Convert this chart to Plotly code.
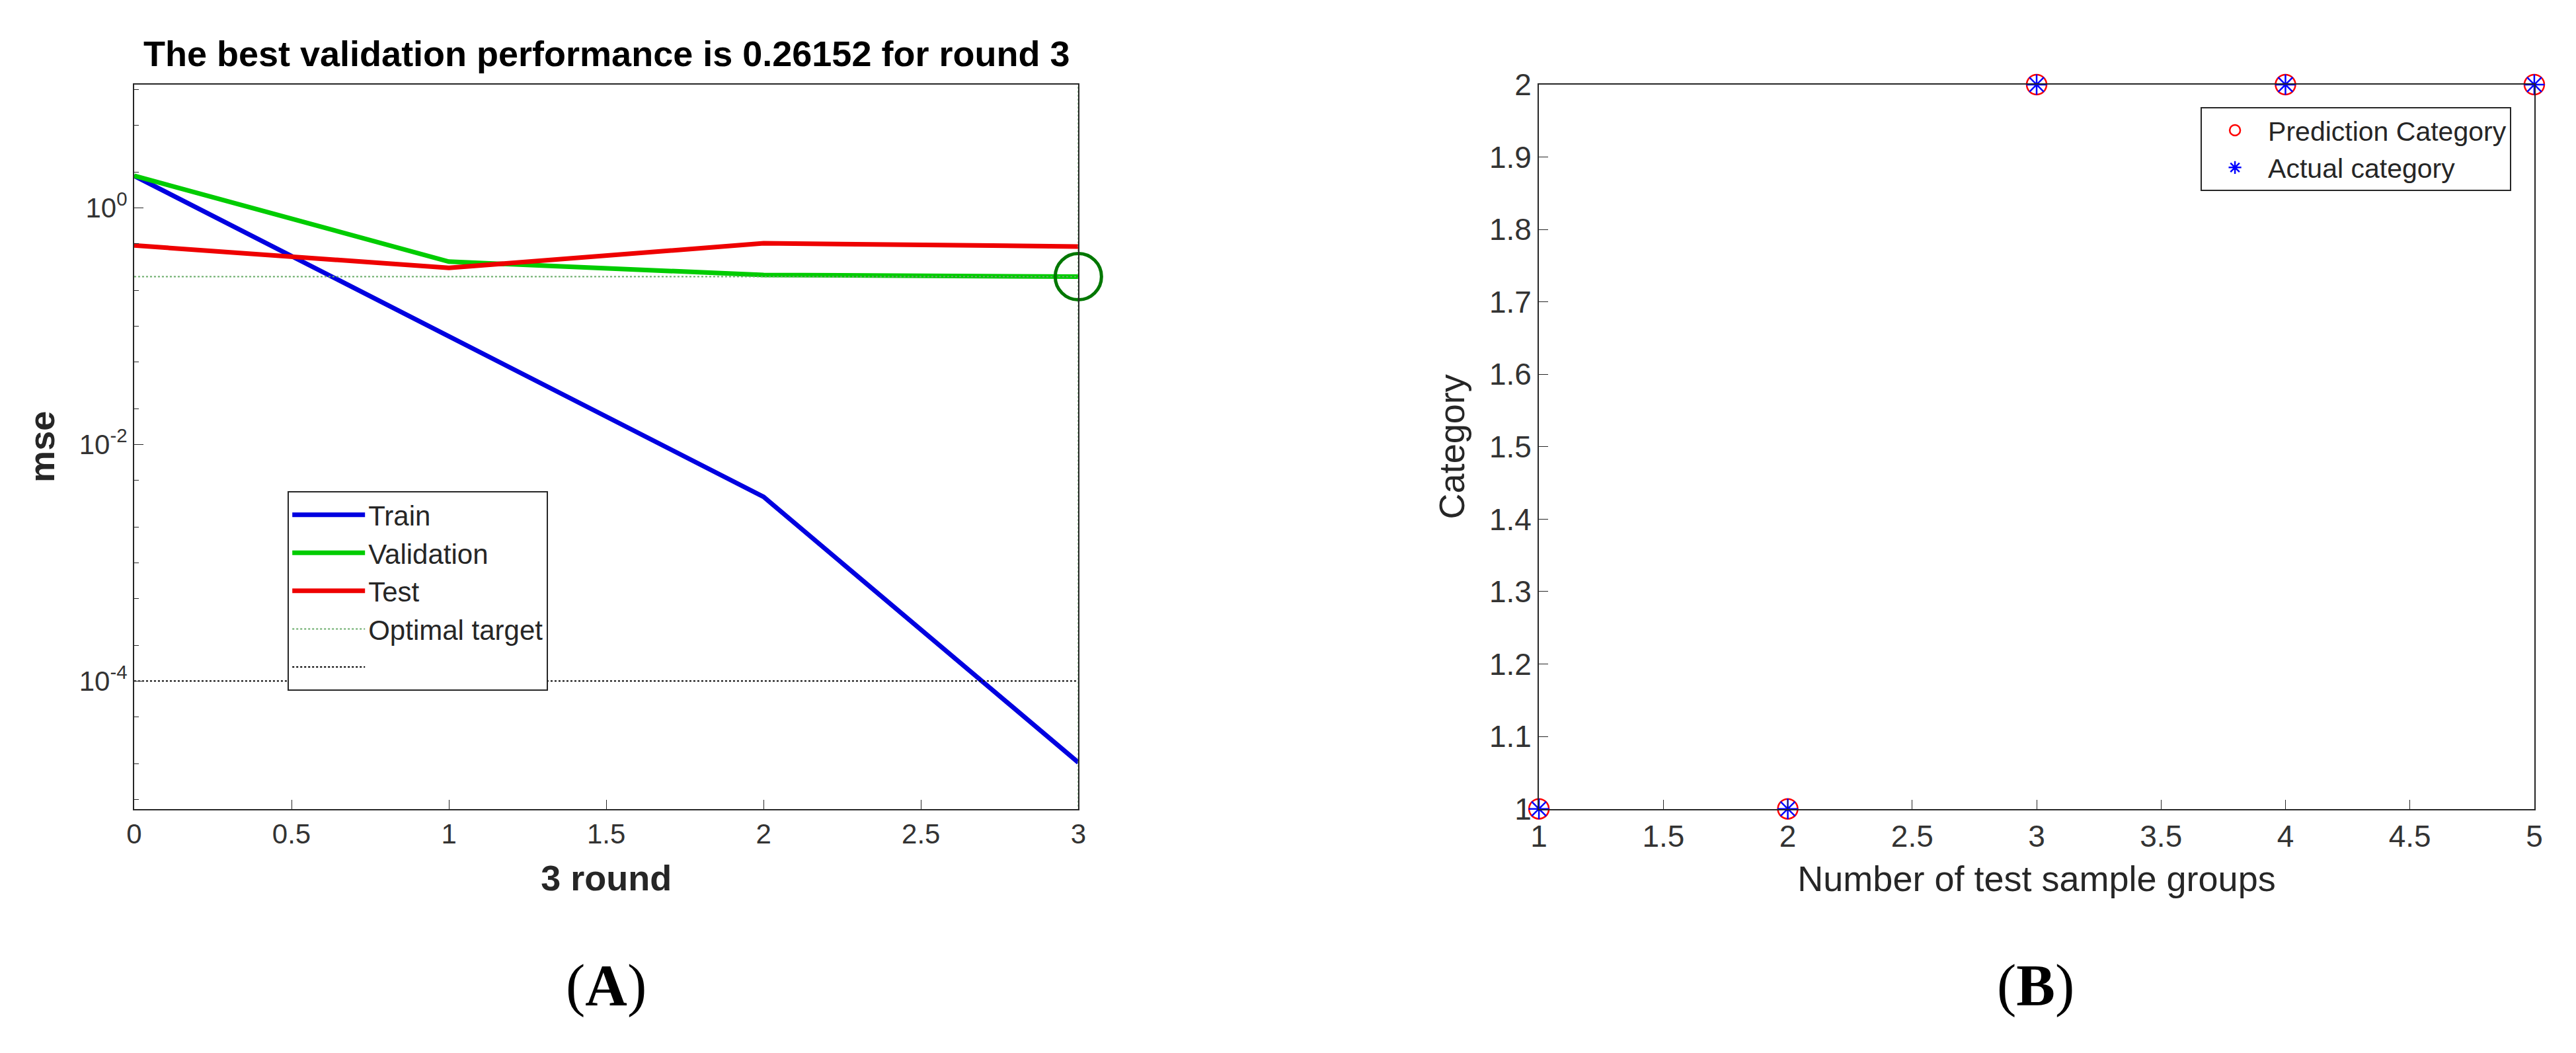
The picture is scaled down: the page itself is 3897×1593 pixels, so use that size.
import plotly.graph_objects as go

# Panel A: training performance
rounds = [0, 1, 2, 3]
train_mse = [1.86, 0.081, 0.0036, 2.05e-5]
val_mse = [1.86, 0.35, 0.27, 0.26152]
test_mse = [0.48, 0.31, 0.50, 0.47]
best_val = 0.26152
best_round = 3
goal = 1e-4

# Panel B: classification results
groups = [1, 2, 3, 4, 5]
predicted = [1, 1, 2, 2, 2]
actual = [1, 1, 2, 2, 2]

FONT = "Liberation Sans"
fig = go.Figure()

fig.add_trace(go.Scatter(x=rounds, y=train_mse, mode="lines", name="Train",
                         line=dict(color="#0000e0", width=7), xaxis="x", yaxis="y"))
fig.add_trace(go.Scatter(x=rounds, y=val_mse, mode="lines", name="Validation",
                         line=dict(color="#00cc00", width=7), xaxis="x", yaxis="y"))
fig.add_trace(go.Scatter(x=rounds, y=test_mse, mode="lines", name="Test",
                         line=dict(color="#ee0000", width=7), xaxis="x", yaxis="y"))
fig.add_trace(go.Scatter(x=[rounds[0], rounds[-1]], y=[best_val, best_val], mode="lines",
                         name="Optimal target", line=dict(color="#66aa66", width=2, dash="dot"),
                         xaxis="x", yaxis="y"))
fig.add_trace(go.Scatter(x=[rounds[0], rounds[-1]], y=[goal, goal], mode="lines", name=" ",
                         line=dict(color="black", width=2, dash="dot"), xaxis="x", yaxis="y"))
fig.add_trace(go.Scatter(x=[best_round, best_round], y=[1e-6, 100], mode="lines", showlegend=False,
                         line=dict(color="#66aa66", width=2, dash="dot"), xaxis="x", yaxis="y"))
fig.add_trace(go.Scatter(x=[best_round], y=[best_val], mode="markers", showlegend=False,
                         marker=dict(symbol="circle-open", size=70, color="#007700",
                                     line=dict(width=5, color="#007700")),
                         xaxis="x", yaxis="y", cliponaxis=False))

fig.add_trace(go.Scatter(x=groups, y=predicted, mode="markers", name="Prediction Category",
                         marker=dict(symbol="circle-open", size=30, color="red",
                                     line=dict(width=2.5, color="red")),
                         xaxis="x2", yaxis="y2", legend="legend2", cliponaxis=False))
fig.add_trace(go.Scatter(x=groups, y=actual, mode="markers", name="Actual category",
                         marker=dict(symbol="asterisk-open", size=26, color="blue",
                                     line=dict(width=2.5, color="blue")),
                         xaxis="x2", yaxis="y2", legend="legend2", cliponaxis=False))

def axis_common(size):
    return dict(showline=True, linecolor="#262626", linewidth=2, mirror=True, ticks="inside",
                ticklen=14, tickcolor="#262626", showgrid=False, zeroline=False,
                tickfont=dict(family=FONT, size=size, color="#333333"))

fig.update_layout(
    width=3897, height=1593, paper_bgcolor="white", plot_bgcolor="white",
    margin=dict(l=0, r=0, t=0, b=0),
    font=dict(family=FONT, color="#262626"),
    xaxis=dict(domain=[0.047, 0.416], range=[0, 3], dtick=0.5,
               title=dict(text="<b>3 round</b>", font=dict(size=54), standoff=25), **axis_common(42)),
    yaxis=dict(domain=[0.228, 0.939], type="log", range=[-5.08, 1.04],
               tickvals=[1, 1e-2, 1e-4], ticktext=["10<sup>0</sup>", "10<sup>-2</sup>", "10<sup>-4</sup>"],
               minor=dict(ticks="inside", ticklen=7, tickcolor="#262626"),
               title=dict(text="<b>mse</b>", font=dict(size=54), standoff=20), **axis_common(42)),
    xaxis2=dict(domain=[0.596, 0.985], range=[1, 5], dtick=0.5, anchor="y2",
                title=dict(text="Number of test sample groups", font=dict(size=54), standoff=20),
                **axis_common(46)),
    yaxis2=dict(domain=[0.228, 0.939], range=[1, 2], dtick=0.1, anchor="x2",
                title=dict(text="Category", font=dict(size=54), standoff=20), **axis_common(46)),
    legend=dict(x=0.107, y=0.54, xref="paper", yref="paper", xanchor="left", yanchor="top",
                bgcolor="white", bordercolor="#262626", borderwidth=2,
                font=dict(size=42, color="#262626"), itemwidth=110, tracegroupgap=0),
    legend2=dict(x=0.976, y=0.917, xref="paper", yref="paper", xanchor="right", yanchor="top",
                 bgcolor="white", bordercolor="#262626", borderwidth=2,
                 font=dict(size=41, color="#262626"), itemwidth=90),
    annotations=[
        dict(text="<b>The best validation performance is 0.26152 for round 3</b>", x=0.2315, y=0.99,
             xref="paper", yref="paper", xanchor="center", yanchor="top", showarrow=False,
             font=dict(size=54, color="black")),
        dict(text="(<b>A</b>)", x=0.2315, y=0.022, xref="paper", yref="paper", xanchor="center",
             showarrow=False, font=dict(family="Liberation Serif", size=88, color="black")),
        dict(text="(<b>B</b>)", x=0.79, y=0.022, xref="paper", yref="paper", xanchor="center",
             showarrow=False, font=dict(family="Liberation Serif", size=88, color="black")),
    ],
)

fig.write_html("out.html")
